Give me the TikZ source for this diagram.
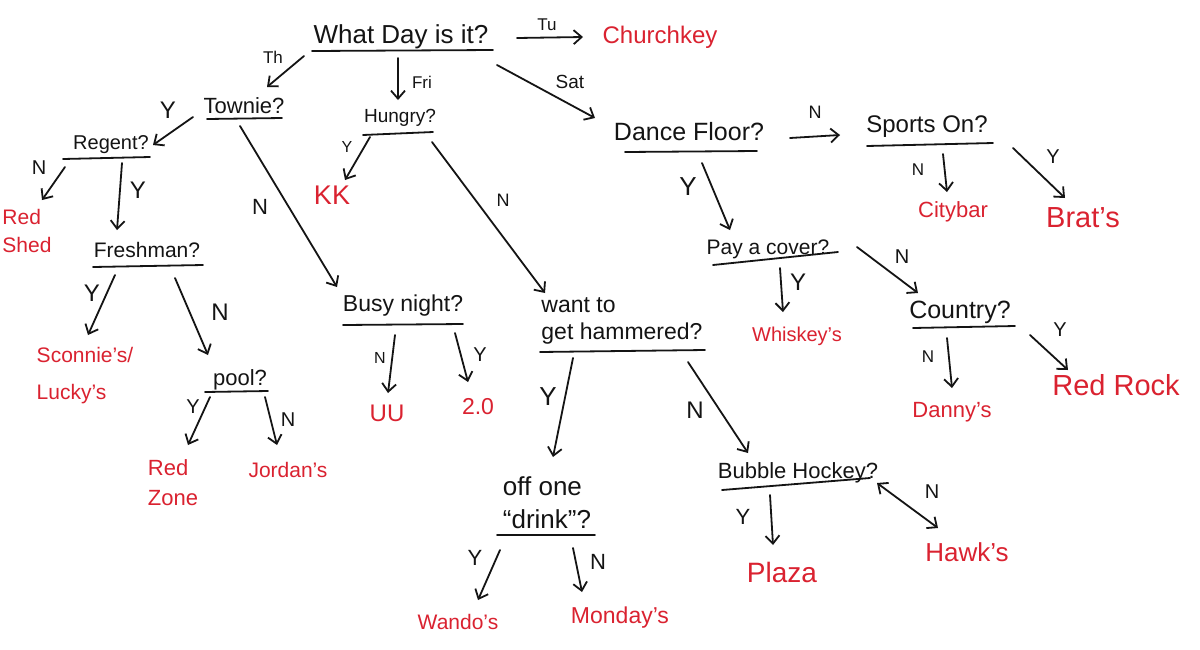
\documentclass[tikz,border=0pt]{standalone}
\usepackage{fontspec}
\setmainfont{Liberation Sans}
\usetikzlibrary{arrows.meta}
\definecolor{ink}{RGB}{20,20,20}
\definecolor{hred}{RGB}{218,34,48}
\newcommand\hfs[2]{\fontsize{#1pt}{#2pt}\selectfont}
\begin{document}
\begin{tikzpicture}[x=1pt,y=-1pt,
  q/.style={inner sep=0pt,text=ink},
  ans/.style={inner sep=0pt,text=hred},
  lbl/.style={inner sep=0pt,text=ink},
  ul/.style={draw=ink,line width=1.8pt,line cap=round},
  arr/.style={draw=ink,line width=1.8pt,line cap=round,-{Straight Barb[length=8pt,width=14pt]}},
  darr/.style={draw=ink,line width=1.8pt,line cap=round,{Straight Barb[length=8pt,width=14pt]}-{Straight Barb[length=8pt,width=14pt]}}]
\useasboundingbox[fill=white] (0,0) rectangle (1200,649);

% question nodes
\node[q,font=\hfs{26}{30}] (day) at (401,37) {What Day is it?};
\node[q,font=\hfs{22}{26}] (townie) at (244,106) {Townie?};
\node[q,font=\hfs{19}{22}] (hungry) at (400,118) {Hungry?};
\node[q,font=\hfs{20}{24}] (regent) at (111,145) {Regent?};
\node[q,font=\hfs{21}{25}] (freshman) at (147,250) {Freshman?};
\node[q,font=\hfs{23}{27}] (busy) at (403,306) {Busy night?};
\node[q,font=\hfs{22}{26}] (pool) at (240,380) {pool?};
\node[q,font=\hfs{23}{27},align=left] (want) at (622,321) {want to\\get hammered?};
\node[q,font=\hfs{26}{33},align=left] (offone) at (547,503) {off one\\“drink”?};
\node[q,font=\hfs{22}{26}] (bubble) at (798,473) {Bubble Hockey?};
\node[q,font=\hfs{25}{30}] (dance) at (689,132) {Dance Floor?};
\node[q,font=\hfs{24}{28}] (sports) at (927,127) {Sports On?};
\node[q,font=\hfs{21}{25}] (pay) at (768,249) {Pay a cover?};
\node[q,font=\hfs{25}{30}] (country) at (960,312) {Country?};

% answers
\node[ans,font=\hfs{24}{28}] (church) at (660,37) {Churchkey};
\node[ans,font=\hfs{27}{30}] (kk) at (332,195) {KK};
\node[ans,font=\hfs{21}{28},align=left] (redshed) at (27,231) {Red\\Shed};
\node[ans,font=\hfs{21}{37},align=left] (sconnie) at (85,376) {Sconnie's/\\Lucky's};
\node[ans,font=\hfs{22}{30},align=left] (redzone) at (173,483) {Red\\Zone};
\node[ans,font=\hfs{21}{25}] (jordan) at (288,470) {Jordan's};
\node[ans,font=\hfs{24}{28}] (uu) at (387,413) {UU};
\node[ans,font=\hfs{23}{27}] (two) at (478,407) {2.0};
\node[ans,font=\hfs{21}{25}] (wando) at (458,622) {Wando's};
\node[ans,font=\hfs{23}{27}] (monday) at (620,618) {Monday's};
\node[ans,font=\hfs{28}{32}] (plaza) at (782,572) {Plaza};
\node[ans,font=\hfs{26}{30}] (hawks) at (967,552) {Hawk's};
\node[ans,font=\hfs{20}{24}] (whiskey) at (797,336) {Whiskey's};
\node[ans,font=\hfs{22}{26}] (citybar) at (953,212) {Citybar};
\node[ans,font=\hfs{29}{33}] (brats) at (1083,218) {Brat's};
\node[ans,font=\hfs{22}{26}] (danny) at (952,412) {Danny's};
\node[ans,font=\hfs{29}{33}] (redrock) at (1116,385) {Red Rock};

% underlines
\draw[ul] ([shift={(-89,14)}]day.center) -- ([shift={(92,13)}]day.center);
\draw[ul] ([shift={(-37,13)}]townie.center) -- ([shift={(38,12)}]townie.center);
\draw[ul] ([shift={(-37,17)}]hungry.center) -- ([shift={(33,14)}]hungry.center);
\draw[ul] ([shift={(-48,14)}]regent.center) -- ([shift={(39,12)}]regent.center);
\draw[ul] ([shift={(-54,17)}]freshman.center) -- ([shift={(56,15)}]freshman.center);
\draw[ul] ([shift={(-60,19)}]busy.center) -- ([shift={(60,18)}]busy.center);
\draw[ul] ([shift={(-35,12)}]pool.center) -- ([shift={(28,11)}]pool.center);
\draw[ul] ([shift={(-82,31)}]want.center) -- ([shift={(83,29)}]want.center);
\draw[ul] ([shift={(-50,32)}]offone.center) -- ([shift={(48,32)}]offone.center);
\draw[ul] ([shift={(-76,17)}]bubble.center) -- ([shift={(72,5)}]bubble.center);
\draw[ul] ([shift={(-64,20)}]dance.center) -- ([shift={(68,19)}]dance.center);
\draw[ul] ([shift={(-60,19)}]sports.center) -- ([shift={(66,16)}]sports.center);
\draw[ul] ([shift={(-55,16)}]pay.center) -- ([shift={(70,3)}]pay.center);
\draw[ul] ([shift={(-47,16)}]country.center) -- ([shift={(55,14)}]country.center);

% connectors
\draw[arr] ([shift={(-97,19)}]day.center) -- ([shift={(23,-19)}]townie.center);
\draw[arr] ([shift={(116,1)}]day.center) -- ([shift={(-77,0)}]church.center);
\draw[arr] ([shift={(-3,21)}]day.center) -- ([shift={(-2,-18)}]hungry.center);
\draw[arr] ([shift={(96,28)}]day.center) -- ([shift={(-94,-14)}]dance.center);
\draw[arr] ([shift={(-51,11)}]townie.center) -- ([shift={(42,0)}]regent.center);
\draw[arr] ([shift={(-4,20)}]townie.center) -- ([shift={(-66,-19)}]busy.center);
\draw[arr] ([shift={(-46,22)}]regent.center) -- ([shift={(15,-31)}]redshed.center);
\draw[arr] ([shift={(11,18)}]regent.center) -- ([shift={(-30,-20)}]freshman.center);
\draw[arr] ([shift={(-30,19)}]hungry.center) -- ([shift={(13,-15)}]kk.center);
\draw[arr] ([shift={(32,24)}]hungry.center) -- ([shift={(-77,-28)}]want.center);
\draw[arr] ([shift={(-32,25)}]freshman.center) -- ([shift={(3,-41)}]sconnie.center);
\draw[arr] ([shift={(28,28)}]freshman.center) -- ([shift={(-32,-25)}]pool.center);
\draw[arr] ([shift={(-30,17)}]pool.center) -- ([shift={(15,-38)}]redzone.center);
\draw[arr] ([shift={(25,17)}]pool.center) -- ([shift={(-11,-25)}]jordan.center);
\draw[arr] ([shift={(-8,29)}]busy.center) -- ([shift={(1,-20)}]uu.center);
\draw[arr] ([shift={(52,27)}]busy.center) -- ([shift={(-10,-25)}]two.center);
\draw[arr] ([shift={(-49,37)}]want.center) -- ([shift={(6,-46)}]offone.center);
\draw[arr] ([shift={(66,41)}]want.center) -- ([shift={(-50,-20)}]bubble.center);
\draw[arr] ([shift={(-47,47)}]offone.center) -- ([shift={(20,-22)}]wando.center);
\draw[arr] ([shift={(26,45)}]offone.center) -- ([shift={(-38,-26)}]monday.center);
\draw[arr] ([shift={(-28,22)}]bubble.center) -- ([shift={(-9,-27)}]plaza.center);
\draw[darr] ([shift={(79,10)}]bubble.center) -- ([shift={(-29,-24)}]hawks.center);
\draw[arr] ([shift={(101,6)}]dance.center) -- ([shift={(-87,8)}]sports.center);
\draw[arr] ([shift={(13,31)}]dance.center) -- ([shift={(-38,-19)}]pay.center);
\draw[arr] ([shift={(16,27)}]sports.center) -- ([shift={(-6,-20)}]citybar.center);
\draw[arr] ([shift={(86,21)}]sports.center) -- ([shift={(-18,-20)}]brats.center);
\draw[arr] ([shift={(12,19)}]pay.center) -- ([shift={(-14,-24)}]whiskey.center);
\draw[arr] ([shift={(89,-2)}]pay.center) -- ([shift={(-42,-19)}]country.center);
\draw[arr] ([shift={(-13,26)}]country.center) -- ([shift={(0,-24)}]danny.center);
\draw[arr] ([shift={(70,23)}]country.center) -- ([shift={(-48,-15)}]redrock.center);

% branch labels
\node[lbl,font=\hfs{17}{20}] (lth) at (273,57) {Th};
\node[lbl,font=\hfs{17}{20}] (ltu) at (547,25) {Tu};
\node[lbl,font=\hfs{17}{20}] (lfri) at (422,82) {Fri};
\node[lbl,font=\hfs{19}{22}] (lsat) at (570,82) {Sat};
\node[lbl,font=\hfs{24}{28}] (ltwy) at (168,110) {Y};
\node[lbl,font=\hfs{20}{24}] (lrgn) at (39,168) {N};
\node[lbl,font=\hfs{24}{28}] (lrgy) at (138,190) {Y};
\node[lbl,font=\hfs{16}{20}] (lhgy) at (347,147) {Y};
\node[lbl,font=\hfs{22}{26}] (ltwn) at (260,207) {N};
\node[lbl,font=\hfs{18}{22}] (lhgn) at (503,200) {N};
\node[lbl,font=\hfs{24}{28}] (lfry) at (92,293) {Y};
\node[lbl,font=\hfs{24}{28}] (lfrn) at (220,312) {N};
\node[lbl,font=\hfs{20}{24}] (lply) at (193,407) {Y};
\node[lbl,font=\hfs{20}{24}] (lpln) at (288,420) {N};
\node[lbl,font=\hfs{16}{20}] (lbsn) at (380,358) {N};
\node[lbl,font=\hfs{20}{24}] (lbsy) at (480,355) {Y};
\node[lbl,font=\hfs{26}{30}] (lwty) at (548,397) {Y};
\node[lbl,font=\hfs{24}{28}] (lwtn) at (695,410) {N};
\node[lbl,font=\hfs{22}{26}] (lofy) at (475,558) {Y};
\node[lbl,font=\hfs{22}{26}] (lofn) at (598,562) {N};
\node[lbl,font=\hfs{22}{26}] (lbby) at (743,517) {Y};
\node[lbl,font=\hfs{20}{24}] (lbbn) at (932,492) {N};
\node[lbl,font=\hfs{26}{30}] (ldcy) at (688,187) {Y};
\node[lbl,font=\hfs{18}{22}] (ldcn) at (815,112) {N};
\node[lbl,font=\hfs{17}{20}] (lspn) at (918,170) {N};
\node[lbl,font=\hfs{20}{24}] (lspy) at (1053,157) {Y};
\node[lbl,font=\hfs{24}{28}] (lpyy) at (798,282) {Y};
\node[lbl,font=\hfs{20}{24}] (lpyn) at (902,257) {N};
\node[lbl,font=\hfs{17}{20}] (lctn) at (928,357) {N};
\node[lbl,font=\hfs{20}{24}] (lcty) at (1060,330) {Y};
\end{tikzpicture}
\end{document}
